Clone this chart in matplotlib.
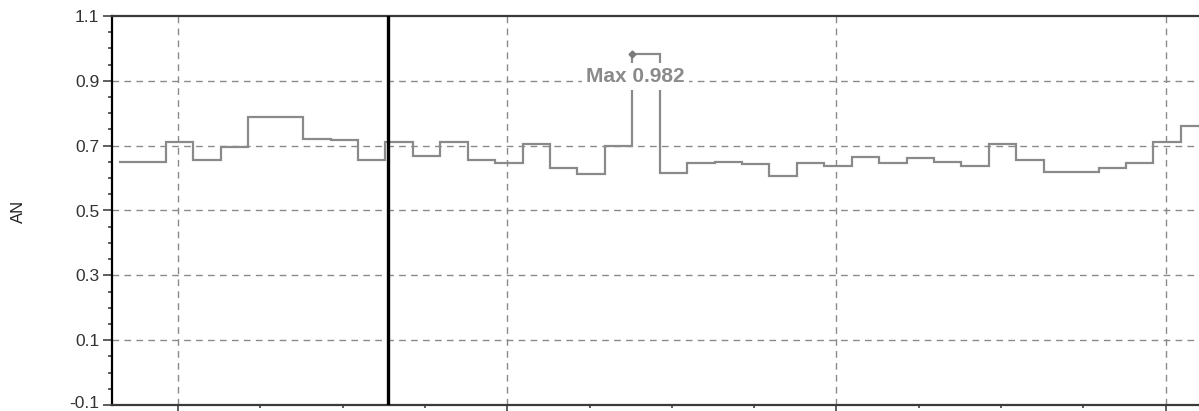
import numpy as np
import matplotlib
matplotlib.use("Agg")
import matplotlib.pyplot as plt
import matplotlib.transforms as mtransforms
from matplotlib.ticker import FixedLocator, MultipleLocator, NullFormatter

# ---- data (x in sample-bin units) ----
first_bin_start = -1.71
an_values = [0.650, 0.712, 0.655, 0.697, 0.788, 0.788, 0.722, 0.718, 0.655,
             0.712, 0.669, 0.712, 0.655, 0.645, 0.706, 0.632, 0.612, 0.699,
             0.982, 0.616, 0.645, 0.649, 0.643, 0.606, 0.647, 0.637, 0.666,
             0.647, 0.662, 0.650, 0.638, 0.705, 0.655, 0.620, 0.620, 0.630,
             0.647, 0.712, 0.761]
cursor_x = 8.1
x_minor_ticks = [0.44, 3.44, 6.44, 9.44, 15.44, 18.44, 21.44, 27.44, 30.44, 33.44]
x_major_ticks = [0.44, 12.44, 24.44, 36.44]
y_ticks = [-0.1, 0.1, 0.3, 0.5, 0.7, 0.9, 1.1]
y_tick_labels = ["-0.1", "0.1", "0.3", "0.5", "0.7", "0.9", "1.1"]
y_label = "AN"

edges = np.concatenate([[first_bin_start], np.arange(0, len(an_values))])

plt.rcParams["font.family"] = ["Liberation Sans", "DejaVu Sans"]

W, H = 1199, 411
fig = plt.figure(figsize=(W / 100, H / 100), dpi=100)
left_px, right_px, top_px, bot_px = 112, 1205, 16, 405
ax = fig.add_axes([left_px / W, (H - bot_px) / H, (right_px - left_px) / W, (bot_px - top_px) / H])

ax.set_xlim(-1.969, 37.88)
ax.set_ylim(-0.1, 1.1)

# grid
grid_kw = dict(color="#8a8a8a", lw=1.0, linestyle=(0, (4.8, 3.8)), zorder=1)
for y in y_ticks[1:-1]:
    ax.axhline(y, **grid_kw)
for x in x_major_ticks:
    ax.axvline(x, **grid_kw)

# step line
ax.stairs(an_values, edges, baseline=None, color="#8a8a8a", lw=1.6, zorder=3)

# cursor
ax.axvline(cursor_x, color="black", lw=2.4, zorder=5)

# max annotation
imax = int(np.argmax(an_values))
vmax = an_values[imax]
ax.plot([edges[imax]], [vmax], marker="D", ms=3.5, color="#7a7a7a", zorder=6, clip_on=False)
ax.text(edges[imax] + 0.1, vmax - 0.068, f"Max {vmax:.3f}", ha="center", va="center",
        fontsize=15, fontweight="bold", color="#8a8a8a", zorder=7,
        bbox=dict(facecolor="white", edgecolor="none", pad=3.0))

# spines
ax.spines["right"].set_visible(False)
ax.spines["left"].set_color("black")
ax.spines["left"].set_linewidth(1.6)
ax.spines["top"].set_color("#3a3a3a")
ax.spines["top"].set_linewidth(1.6)
ax.spines["bottom"].set_color("#3a3a3a")
ax.spines["bottom"].set_linewidth(1.6)

# ticks
ax.yaxis.set_major_locator(FixedLocator(y_ticks))
ax.set_yticklabels(y_tick_labels)
ax.yaxis.set_minor_locator(MultipleLocator(0.05))
ax.xaxis.set_major_locator(FixedLocator(x_major_ticks))
ax.xaxis.set_minor_locator(FixedLocator(x_minor_ticks))
ax.xaxis.set_major_formatter(NullFormatter())
ax.tick_params(axis="y", which="major", length=6.5, width=1.1, color="#333333",
               labelsize=12.5, labelcolor="#333333", pad=2.5)
ax.tick_params(axis="y", which="minor", length=3, width=1.1, color="#333333")
ax.tick_params(axis="x", which="major", length=4, width=1.1, color="#333333")
ax.tick_params(axis="x", which="minor", length=2.5, width=1.1, color="#333333")

# nudge the bottom tick label up slightly so it stays inside the canvas
bottom_label = ax.get_yticklabels()[0]
bottom_label.set_transform(bottom_label.get_transform() +
                           mtransforms.ScaledTranslation(0, 2.5 / 72, fig.dpi_scale_trans))

fig.text(18 / W, 1 - 211 / H, y_label, rotation=90, ha="center", va="center",
         fontsize=12, color="#222222")

fig.savefig("out.png", dpi=100)
